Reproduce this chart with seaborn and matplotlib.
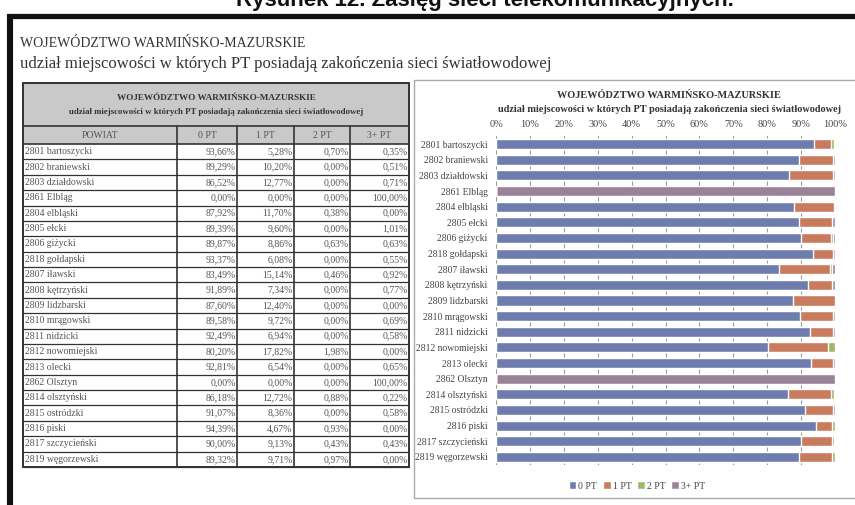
import numpy as np
import pandas as pd
import matplotlib
matplotlib.use('Agg')
import matplotlib.pyplot as plt
import seaborn as sns
from matplotlib.patches import Rectangle
from matplotlib.lines import Line2D

# ── DANE ──
powiaty = ['2801 bartoszycki', '2802 braniewski', '2803 działdowski', '2861 Elbląg',
           '2804 elbląski', '2805 ełcki', '2806 giżycki', '2818 gołdapski', '2807 iławski',
           '2808 kętrzyński', '2809 lidzbarski', '2810 mrągowski', '2811 nidzicki',
           '2812 nowomiejski', '2813 olecki', '2862 Olsztyn', '2814 olsztyński',
           '2815 ostródzki', '2816 piski', '2817 szczycieński', '2819 węgorzewski']
pt0 = [93.66, 89.29, 86.52, 0.00, 87.92, 89.39, 89.87, 93.37, 83.49, 91.89, 87.60,
       89.58, 92.49, 80.20, 92.81, 0.00, 86.18, 91.07, 94.39, 90.00, 89.32]
pt1 = [5.28, 10.20, 12.77, 0.00, 11.70, 9.60, 8.86, 6.08, 15.14, 7.34, 12.40,
       9.72, 6.94, 17.82, 6.54, 0.00, 12.72, 8.36, 4.67, 9.13, 9.71]
pt2 = [0.70, 0.00, 0.00, 0.00, 0.38, 0.00, 0.63, 0.00, 0.46, 0.00, 0.00,
       0.00, 0.00, 1.98, 0.00, 0.00, 0.88, 0.00, 0.93, 0.43, 0.97]
pt3 = [0.35, 0.51, 0.71, 100.00, 0.00, 1.01, 0.63, 0.55, 0.92, 0.77, 0.00,
       0.69, 0.58, 0.00, 0.65, 100.00, 0.22, 0.58, 0.00, 0.43, 0.00]
kolumny = ['POWIAT', '0 PT', '1 PT', '2 PT', '3+ PT']
serie = ['0 PT', '1 PT', '2 PT', '3+ PT']
kolory = ['#6e7dae', '#c97c5d', '#9db86b', '#9a8399']

tytul = 'WOJEWÓDZTWO WARMIŃSKO-MAZURSKIE'
podtytul = 'udział miejscowości w których PT posiadają zakończenia sieci światłowodowej'

df = pd.DataFrame({'powiat': powiaty, '0 PT': pt0, '1 PT': pt1, '2 PT': pt2, '3+ PT': pt3})

sns.set_theme(style='white')
plt.rcParams['font.family'] = ['Liberation Serif', 'DejaVu Serif']

W, H = 855, 505
fig = plt.figure(figsize=(W / 100, H / 100), dpi=100)

# ── warstwa w pikselach (ramka, napisy, tabela) ──
bg = fig.add_axes([0, 0, 1, 1])
bg.set_xlim(0, W)
bg.set_ylim(H, 0)
bg.axis('off')

# tytuł rysunku - w oryginale przycięty u góry
bg.text(485, 6, 'Rysunek 12. Zasięg sieci telekomunikacyjnych.', ha='center', va='baseline',
        fontsize=16, fontweight='bold', family=['Liberation Sans', 'DejaVu Sans'], color='#111')
bg.add_line(Line2D([7, W], [15.5, 15.5], color='#111', lw=3.8, solid_capstyle='butt'))
bg.add_line(Line2D([10, 10], [13.5, H], color='#111', lw=4.4, solid_capstyle='butt'))

bg.text(20, 47, tytul, ha='left', va='baseline', fontsize=10, color='#333')
bg.text(20, 68, podtytul, ha='left', va='baseline', fontsize=12, color='#333')

# ── tabela ──
cx = [23, 177, 237, 294, 350, 409]
t_top, t_band, t_head, t_bot = 83, 126, 144, 467
row_h = (t_bot - t_head) / len(powiaty)
szary = '#c9c9c9'
bg.add_patch(Rectangle((cx[0], t_top), cx[-1] - cx[0], t_head - t_top, fc=szary, ec='none'))
bg.text((cx[0] + cx[-1]) / 2, 98, tytul, ha='center', va='center', fontsize=6.6,
        fontweight='bold', color='#333')
bg.text((cx[0] + cx[-1]) / 2, 112, podtytul, ha='center', va='center', fontsize=6.3,
        fontweight='bold', color='#333')
for j, k in enumerate(kolumny):
    bg.text((cx[j] + cx[j + 1]) / 2, (t_band + t_head) / 2 + 0.5, k, ha='center', va='center',
            fontsize=7, color='#555')

for i, row in df.iterrows():
    yc = t_head + (i + 0.5) * row_h
    bg.text(cx[0] + 2, yc, row['powiat'], ha='left', va='center', fontsize=7, color='#555')
    for j, s in enumerate(serie):
        txt = f'{row[s]:.2f}%'.replace('.', ',')
        bg.text(cx[j + 2] - 1.5, yc, txt, ha='right', va='center', fontsize=7, color='#555')
    bg.add_line(Line2D([cx[0], cx[-1]], [t_head + (i + 1) * row_h] * 2, color='#333', lw=0.9))

bg.add_line(Line2D([cx[0], cx[-1]], [t_band, t_band], color='#333', lw=1.2))
bg.add_line(Line2D([cx[0], cx[-1]], [t_head, t_head], color='#333', lw=1.2))
for x in cx[1:-1]:
    bg.add_line(Line2D([x, x], [t_band, t_bot], color='#333', lw=1.2))
bg.add_patch(Rectangle((cx[0], t_top), cx[-1] - cx[0], t_bot - t_top, fc='none', ec='#333', lw=1.4))

# ── ramka wykresu ──
bg.add_patch(Rectangle((414, 80), 460, 418, fc='none', ec='#aaaaaa', lw=1.0))
bg.text(669, 96, tytul, ha='center', va='center', fontsize=7.4, fontweight='bold', color='#333')
bg.text(669, 109, podtytul, ha='center', va='center', fontsize=7.4, fontweight='bold', color='#333')

# ── wykres słupkowy skumulowany ──
x0, x1 = 496, 835
y0, y1 = 144 - 7.7, 457 + 7.7
ax = fig.add_axes([x0 / W, 1 - y1 / H, (x1 - x0) / W, (y1 - y0) / H])

cum = df[serie].cumsum(axis=1)
for s, c in reversed(list(zip(serie, kolory))):
    sns.barplot(x=cum[s], y=df['powiat'], orient='h', color=c, width=0.64,
                errorbar=None, ax=ax, zorder=3, saturation=1)

ax.set_xlim(0, 100)
ax.set_xticks(np.arange(0, 101, 10))
ax.set_xticklabels([f'{v}%' for v in range(0, 101, 10)])
ax.xaxis.tick_top()
ax.tick_params(axis='x', length=0, pad=5, labelsize=7.4, labelcolor='#444')
ax.tick_params(axis='y', length=0, pad=6, labelsize=6.9, labelcolor='#444')
ax.set_xlabel('')
ax.set_ylabel('')
ax.grid(axis='x', color='#9a9a9a', lw=0.8, zorder=0)
for sp in ax.spines.values():
    sp.set_visible(False)

handles = [Rectangle((0, 0), 1, 1, fc=c) for c in kolory]
fig.legend(handles, serie, loc='center', bbox_to_anchor=(637 / W, 1 - 486 / H), ncol=4,
           frameon=False, fontsize=7, handlelength=0.8, handleheight=0.8,
           handletextpad=0.2, columnspacing=0.6, labelcolor='#444')

plt.savefig('out.png', dpi=100)
